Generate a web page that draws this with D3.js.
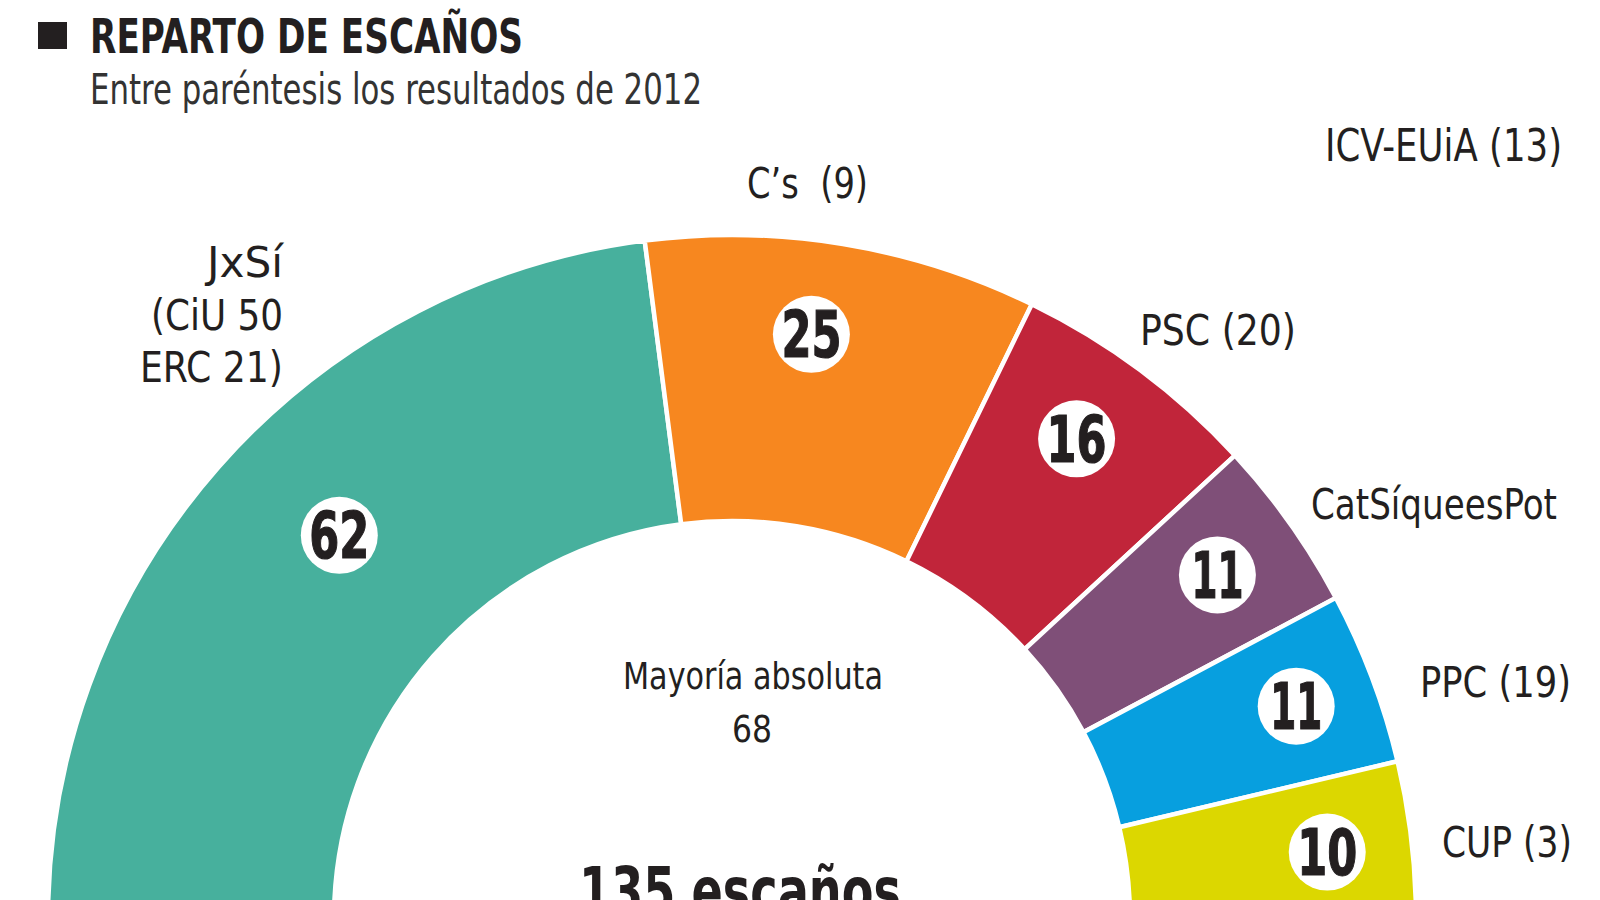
<!DOCTYPE html>
<html>
<head>
<meta charset="utf-8">
<script src="https://cdn.jsdelivr.net/npm/d3@7/dist/d3.min.js"></script>
<style>
  html, body { margin: 0; padding: 0; background: #ffffff; }
  svg { display: block; }
  text { font-family: "DejaVu Sans", "Liberation Sans", sans-serif; font-stretch: condensed; }
</style>
</head>
<body>
<svg id="chart" width="1600" height="900"></svg>
<script>
// ---- Data ----
const parties   = ["JxSí", "C’s", "PSC", "CatSíqueesPot", "PPC", "CUP"];
const seats2015 = [62, 25, 16, 11, 11, 10];
const colors    = ["#47b09d", "#f7871f", "#c1253a", "#7f4f78", "#079fdf", "#dcd700"];
const labels2012 = [["JxSí", "(CiU 50", "ERC 21)"], ["C’s\u00a0 (9)"], ["PSC (20)"], ["CatSíqueesPot"], ["PPC (19)"], ["CUP (3)"]];
const extraLabel = "ICV-EUiA (13)";
const title = "REPARTO DE ESCAÑOS";
const subtitle = "Entre paréntesis los resultados de 2012";
const majorityLabel = ["Mayoría absoluta", "68"];
const totalSeats = d3.sum(seats2015);
const totalLabel = totalSeats + " escaños";

// ---- Layout ----
const svg = d3.select("#chart");
const cx = 732, cy = 919, rOuter = 684, rInner = 398;
const ink = "#231f20";

// squeeze text horizontally to emulate the condensed typeface of the original
function fit(sel, width) {
  sel.attr("textLength", width).attr("lengthAdjust", "spacingAndGlyphs");
  return sel;
}

const data = parties.map((p, i) => ({ party: p, seats: seats2015[i], color: colors[i], label: labels2012[i] }));

const pie = d3.pie().value(d => d.seats).sort(null)
  .startAngle(-Math.PI / 2).endAngle(Math.PI / 2);
const arcs = pie(data);
const arc = d3.arc().innerRadius(rInner).outerRadius(rOuter);

const g = svg.append("g").attr("transform", `translate(${cx},${cy})`);

g.selectAll("path.seg").data(arcs).join("path")
  .attr("class", "seg")
  .attr("d", arc)
  .attr("fill", d => d.data.color)
  .attr("stroke", "#ffffff")
  .attr("stroke-width", 4.5)
  .attr("stroke-linejoin", "miter");

// number badges: placed near each segment's mid-angle, with small hand-placement nudges
const badgeNudgeDeg = [-3, 1.6, 1, 0, 0, -0.25];
const badgeRadius   = [549, 590, 591, 595, 603, 599];
const badge = g.selectAll("g.badge").data(arcs).join("g").attr("class", "badge")
  .attr("transform", (d, i) => {
    const a = (d.startAngle + d.endAngle) / 2 - badgeNudgeDeg[i] * Math.PI / 180;
    const r = badgeRadius[i];
    return `translate(${r * Math.sin(a)},${-r * Math.cos(a)})`;
  });
badge.append("circle").attr("r", 38.5).attr("fill", "#ffffff");
badge.append("text")
  .attr("text-anchor", "middle")
  .attr("dy", "0.36em")
  .attr("font-weight", "bold")
  .attr("font-size", 64)
  .attr("fill", ink)
  .attr("stroke", ink)
  .attr("stroke-width", 1.2)
  .text(d => d.data.seats)
  .each(function(d) {
    const s = String(d.data.seats);
    fit(d3.select(this), s === "11" ? 52 : 60);
  });

// party labels (placed beside each segment)
const labelPos = [
  { x: 283, y: 277, anchor: "end", w: [76, 132, 143] },
  { x: 747, y: 198, anchor: "start", w: [121] },
  { x: 1140, y: 345, anchor: "start", w: [156] },
  { x: 1311, y: 519, anchor: "start", w: [246] },
  { x: 1420, y: 697, anchor: "start", w: [151] },
  { x: 1442, y: 857, anchor: "start", w: [130] }
];
data.forEach((d, i) => {
  d.label.forEach((line, j) => {
    fit(svg.append("text")
      .attr("x", labelPos[i].x).attr("y", labelPos[i].y + j * 52.5)
      .attr("text-anchor", labelPos[i].anchor)
      .attr("font-size", 43)
      .attr("fill", ink)
      .text(line), labelPos[i].w[j]);
  });
});
fit(svg.append("text").attr("x", 1325).attr("y", 161).attr("font-size", 45)
  .attr("fill", ink).text(extraLabel), 237);

// center labels
fit(svg.append("text").attr("x", 623).attr("y", 689)
  .attr("font-size", 38).attr("fill", ink).text(majorityLabel[0]), 260);
fit(svg.append("text").attr("x", 732).attr("y", 742)
  .attr("font-size", 38).attr("fill", ink).text(majorityLabel[1]), 40);
fit(svg.append("text").attr("x", 579).attr("y", 914)
  .attr("font-size", 65).attr("font-weight", "bold").attr("fill", ink).text(totalLabel), 322);

// title
svg.append("rect").attr("x", 38).attr("y", 22).attr("width", 29).attr("height", 27).attr("fill", ink);
fit(svg.append("text").attr("x", 90).attr("y", 53).attr("font-size", 48).attr("font-weight", "bold")
  .attr("fill", ink).text(title), 433);
fit(svg.append("text").attr("x", 90).attr("y", 104).attr("font-size", 43)
  .attr("fill", "#333333").text(subtitle), 612);
</script>
</body>
</html>
